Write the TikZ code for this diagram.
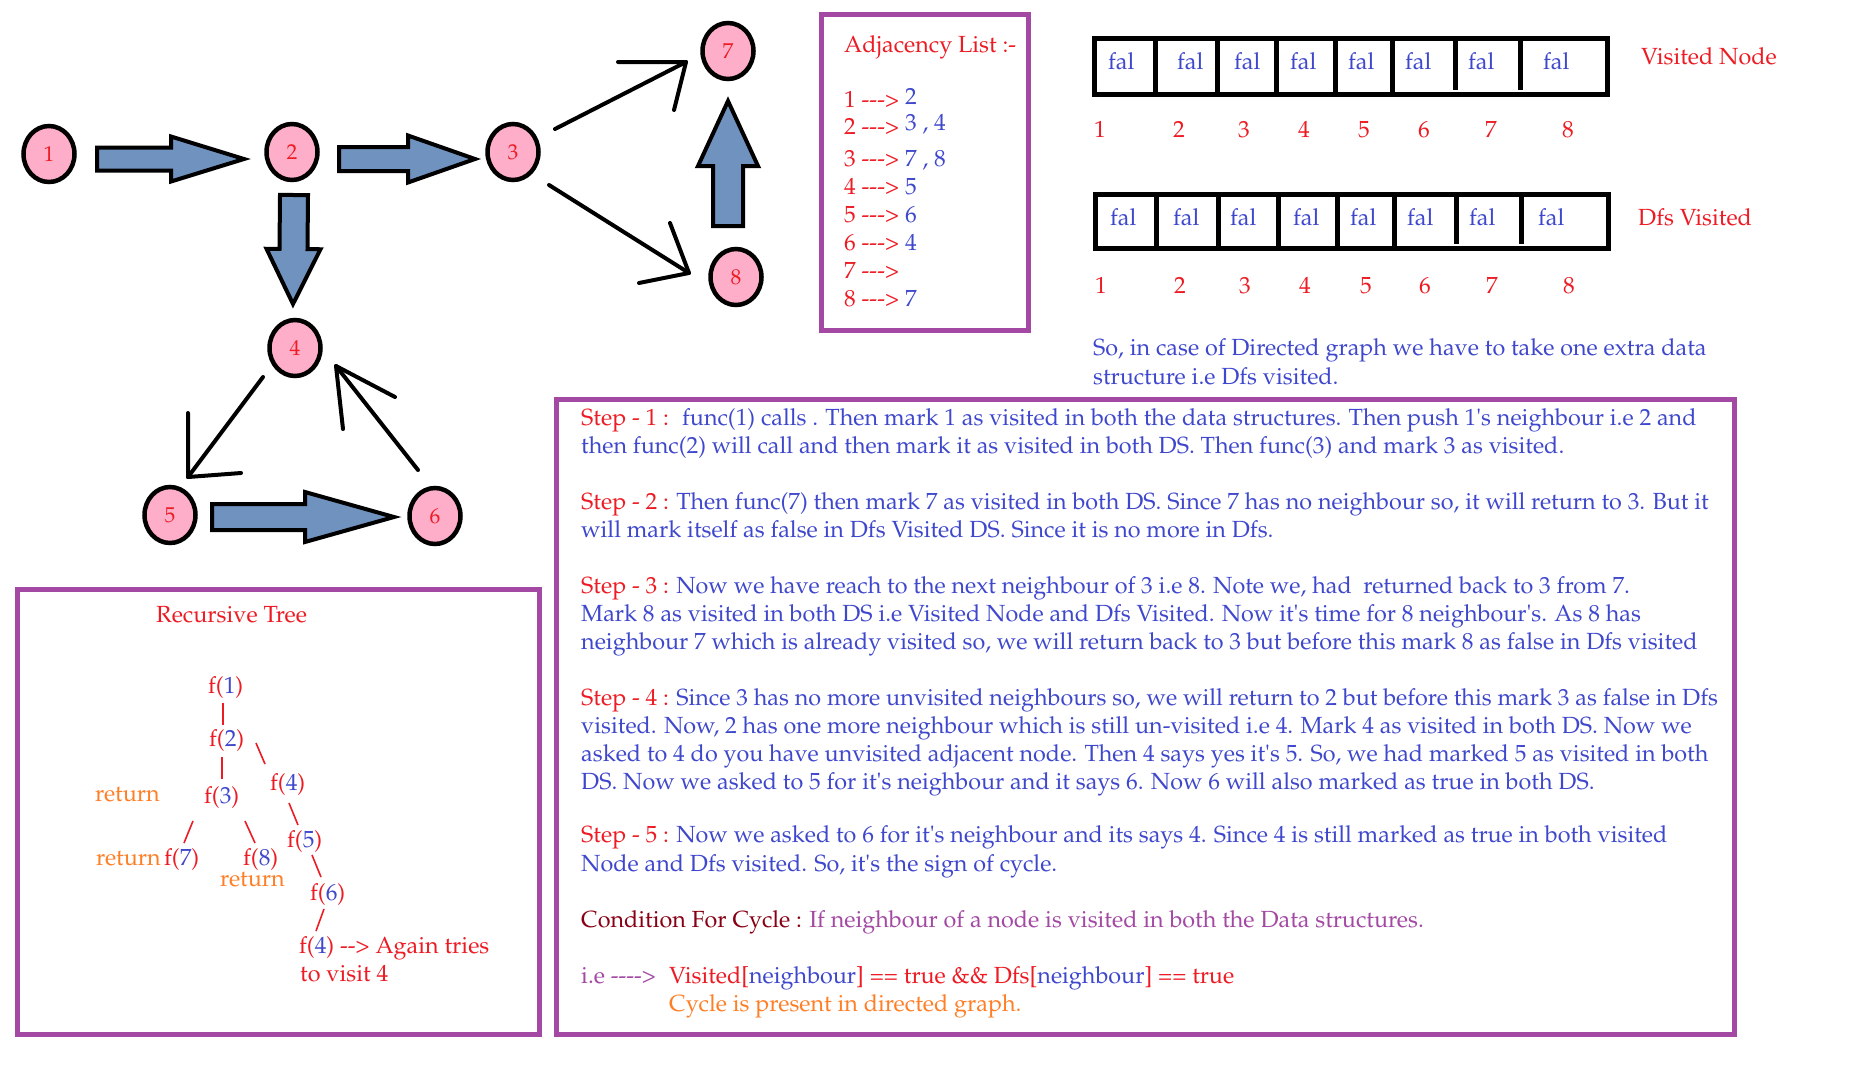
\documentclass[tikz,border=0pt]{standalone}
\usepackage[T1]{fontenc}
\usepackage{mathpazo}
\usetikzlibrary{calc,shapes.geometric}
\definecolor{cred}{RGB}{237,28,36}
\definecolor{cblue}{RGB}{63,72,204}
\definecolor{corange}{RGB}{255,127,39}
\definecolor{cpurple}{RGB}{163,73,164}
\definecolor{cdark}{RGB}{136,0,21}
\definecolor{carrow}{RGB}{112,146,190}
\definecolor{cpink}{RGB}{255,174,201}
\newcommand{\R}[1]{\textcolor{cred}{#1}}
\newcommand{\B}[1]{\textcolor{cblue}{#1}}
\newcommand{\fn}[1]{\R{f(}\B{#1}\R{)}}
\newcommand{\q}{\textquotesingle}
\newcommand{\blockarr}[5]{%
  \coordinate (ba) at ($(#2)!#5!(#1)$);
  \draw[blk] ($(#1)!#3!90:(#2)$) -- ($(ba)!#3!90:(#2)$) -- ($(ba)!#4!90:(#2)$) -- (#2)
     -- ($(ba)!#4!-90:(#2)$) -- ($(ba)!#3!-90:(#2)$) -- ($(#1)!#3!-90:(#2)$) -- cycle;}
\begin{document}
\begin{tikzpicture}[x=1pt,y=-1pt,
  gnode/.style={ellipse,draw=black,line width=4.5pt,fill=cpink,minimum width=51pt,minimum height=56pt,inner sep=0pt,text=cred,font=\fontsize{21.5}{24}\selectfont},
  blk/.style={draw=black,line width=4pt,fill=carrow,line join=miter},
  larrow/.style={draw=black,line width=4pt,line cap=round,line join=round},
  txt/.style={anchor=mid west,inner sep=0pt,yshift=-5.5pt,font=\fontsize{23.35}{28}\selectfont},
  frame/.style={draw=cpurple,line width=5pt},
  arr/.style={draw=black,line width=5pt},
  tline/.style={draw=cred,line width=1.6pt},
]
\useasboundingbox[fill=white] (0,0) rectangle (1870,1069);

% ---------- graph ----------
\node[gnode] (n1) at (49,154) {1};
\node[gnode] (n2) at (292,152) {2};
\node[gnode] (n3) at (513,152) {3};
\node[gnode] (n7) at (728,51) {7};
\node[gnode] (n8) at (736,277) {8};
\node[gnode] (n4) at (295,348) {4};
\node[gnode] (n5) at (170,515) {5};
\node[gnode] (n6) at (435,516) {6};

\coordinate (s12) at ([shift={(48,5)}]n1.center);
\coordinate (e12) at ([shift={(-48,7)}]n2.center);
\blockarr{s12}{e12}{11.5pt}{22.5pt}{73pt}
\coordinate (s23) at ([shift={(47,7)}]n2.center);
\coordinate (e23) at ([shift={(-38,7)}]n3.center);
\blockarr{s23}{e23}{12pt}{23.5pt}{67pt}
\coordinate (s24) at ([shift={(2,43)}]n2.center);
\coordinate (e24) at ([shift={(-2,-44)}]n4.center);
\blockarr{s24}{e24}{14pt}{27pt}{55pt}
\coordinate (s87) at ([shift={(-8,-51)}]n8.center);
\coordinate (e87) at ([shift={(0,50)}]n7.center);
\blockarr{s87}{e87}{15pt}{30pt}{65pt}
\coordinate (s56) at ([shift={(42,2)}]n5.center);
\coordinate (e56) at ([shift={(-41,1)}]n6.center);
\blockarr{s56}{e56}{13pt}{25pt}{89pt}

\draw[larrow] ([shift={(42,-23)}]n3.center) -- ([shift={(-42,11)}]n7.center) coordinate (t37);
\draw[larrow] ([shift={(-68,0)}]t37) -- (t37) -- ([shift={(-12,48)}]t37);
\draw[larrow] ([shift={(36,33)}]n3.center) -- ([shift={(-47,-4)}]n8.center) coordinate (t38);
\draw[larrow] ([shift={(-50,10)}]t38) -- (t38) -- ([shift={(-19,-50)}]t38);
\draw[larrow] ([shift={(-32,29)}]n4.center) -- ([shift={(18,-38)}]n5.center) coordinate (t45);
\draw[larrow] ([shift={(0,-64)}]t45) -- (t45) -- ([shift={(53,-4)}]t45);
\draw[larrow] ([shift={(-17,-46)}]n6.center) -- ([shift={(41,18)}]n4.center) coordinate (t64);
\draw[larrow] ([shift={(7,63)}]t64) -- (t64) -- ([shift={(59,31)}]t64);

% ---------- adjacency list ----------
\draw[frame] (821.5,14.5) rectangle (1028.5,330.5);
\node[txt,text=cred] (adjt) at (844,45) {Adjacency List :-};
\node[txt] (a1) at (844,100) {\R{1 -{}-{}->} \B{\raisebox{3pt}{2}}};
\node[txt] (a2) at (844,127) {\R{2 -{}-{}->} \B{\raisebox{4pt}{3 , 4}}};
\node[txt] (a3) at (844,159) {\R{3 -{}-{}->} \B{7 , 8}};
\node[txt] (a4) at (844,187) {\R{4 -{}-{}->} \B{5}};
\node[txt] (a5) at (844,215) {\R{5 -{}-{}->} \B{6}};
\node[txt] (a6) at (844,243) {\R{6 -{}-{}->} \B{4}};
\node[txt] (a7) at (844,271) {\R{7 -{}-{}->}};
\node[txt] (a8) at (844,299) {\R{8 -{}-{}->} \B{7}};

% ---------- arrays ----------
\draw[arr] (1094.5,38.5) rectangle (1607.5,94.5);
\foreach \x in {1155,1217,1276,1335,1392} \draw[arr] (\x,38.5) -- (\x,94.5);
\foreach \x in {1455,1520} \draw[arr] (\x,38.5) -- (\x,90);
\foreach \x [count=\i] in {1108,1177,1234,1290,1348,1405,1468,1543}
  \node[txt,text=cblue] (v\i) at (\x,62) {fal};
\foreach \x [count=\i] in {1100,1179,1244,1304,1364,1424,1491,1568}
  \node[txt,anchor=mid,text=cred] (vi\i) at (\x,130) {\i};
\node[txt,text=cred] (vlab) at (1641,57) {Visited Node};

\draw[arr] (1095.5,194.5) rectangle (1608.5,248.5);
\foreach \x in {1156,1218,1278,1337,1394} \draw[arr] (\x,194.5) -- (\x,248.5);
\foreach \x in {1456,1521} \draw[arr] (\x,194.5) -- (\x,244);
\foreach \x [count=\i] in {1110,1173,1230,1293,1350,1407,1469,1538}
  \node[txt,text=cblue] (d\i) at (\x,218) {fal};
\foreach \x [count=\i] in {1101,1180,1245,1305,1366,1425,1492,1569}
  \node[txt,anchor=mid,text=cred] (di\i) at (\x,286) {\i};
\node[txt,text=cred] (dlab) at (1638,218) {Dfs Visited};

\node[txt,text=cblue] (so1) at (1093,348) {So, in case of Directed graph we have to take one extra data};
\node[txt,text=cblue] (so2) at (1093,377) {structure i.e Dfs visited.};

% ---------- recursive tree ----------
\draw[frame] (17.5,589.5) rectangle (539.5,1034.5);
\node[txt,text=cred] (rt) at (156,615) {Recursive Tree};
\node[txt] (t1) at (208,686) {\fn{1}};
\node[txt] (t2) at (209,739) {\fn{2}};
\node[txt] (t3) at (204,796) {\fn{3}};
\node[txt] (t4) at (270,783) {\fn{4}};
\node[txt,text=corange] (r3) at (95,794) {return};
\node[txt,text=corange] (r7) at (96,858) {return};
\node[txt] (t7) at (164,858) {\fn{7}};
\node[txt] (t8) at (243,858) {\fn{8}};
\node[txt,text=corange] (r8) at (220,879) {return};
\node[txt] (t5) at (287,840) {\fn{5}};
\node[txt] (t6) at (310,893) {\fn{6}};
\node[txt] (t4b) at (299,946) {\fn{4} \R{-{}-> Again tries}};
\node[txt,text=cred] (tv) at (300,974) {to visit 4};

\draw[tline] ([shift={(15,11.5)}]t1.mid west) -- ([shift={(14,-19.5)}]t2.mid west);
\draw[tline] ([shift={(13,12.5)}]t2.mid west) -- ([shift={(18,-22.5)}]t3.mid west);
\draw[tline] ([shift={(47,-1.5)}]t2.mid west) -- ([shift={(-5,-24.5)}]t4.mid west);
\draw[tline] ([shift={(-11,19.5)}]t3.mid west) -- ([shift={(20,-20.5)}]t7.mid west);
\draw[tline] ([shift={(41,19.5)}]t3.mid west) -- ([shift={(12,-20.5)}]t8.mid west);
\draw[tline] ([shift={(19,14.5)}]t4.mid west) -- ([shift={(11,-20.5)}]t5.mid west);
\draw[tline] ([shift={(25,9.5)}]t5.mid west) -- ([shift={(11,-21.5)}]t6.mid west);
\draw[tline] ([shift={(14,10.5)}]t6.mid west) -- ([shift={(17,-20.5)}]t4b.mid west);

% ---------- steps ----------
\draw[frame] (556.5,399.5) rectangle (1734.5,1034.5);
\begin{scope}[every node/.append style={txt,text=cblue}]
\node (s1a) at (581,418) {\R{Step - 1 :}~ func(1) calls . Then mark 1 as visited in both the data structures. Then push 1\q s neighbour i.e 2 and};
\node (s1b) at (581,446) {then func(2) will call and then mark it as visited in both DS. Then func(3) and mark 3 as visited.};
\node (s2a) at (581,502) {\R{Step - 2 :} Then func(7) then mark 7 as visited in both DS. Since 7 has no neighbour so, it will return to 3. But it};
\node (s2b) at (581,530) {will mark itself as false in Dfs Visited DS. Since it is no more in Dfs.};
\node (s3a) at (581,586) {\R{Step - 3 :} Now we have reach to the next neighbour of 3 i.e 8. Note we, had~ returned back to 3 from 7.};
\node (s3b) at (581,614) {Mark 8 as visited in both DS i.e Visited Node and Dfs Visited. Now it\q s time for 8 neighbour\q s. As 8 has};
\node (s3c) at (581,642) {neighbour 7 which is already visited so, we will return back to 3 but before this mark 8 as false in Dfs visited};
\node (s4a) at (581,698) {\R{Step - 4 :} Since 3 has no more unvisited neighbours so, we will return to 2 but before this mark 3 as false in Dfs};
\node (s4b) at (581,726) {visited. Now, 2 has one more neighbour which is still un-visited i.e 4. Mark 4 as visited in both DS. Now we};
\node (s4c) at (581,754) {asked to 4 do you have unvisited adjacent node. Then 4 says yes it\q s 5. So, we had marked 5 as visited in both};
\node (s4d) at (581,782) {DS. Now we asked to 5 for it\q s neighbour and it says 6. Now 6 will also marked as true in both DS.};
\node (s5a) at (581,835) {\R{Step - 5 :} Now we asked to 6 for it\q s neighbour and its says 4. Since 4 is still marked as true in both visited};
\node (s5b) at (581,864) {Node and Dfs visited. So, it\q s the sign of cycle.};
\node (cond) at (581,920) {\textcolor{cdark}{Condition For Cycle :} \textcolor{cpurple}{If neighbour of a node is visited in both the Data structures.}};
\node[text=cpurple] (ie) at (581,976) {i.e -{}-{}-{}->};
\node (vis) at (669,976) {\R{Visited[}\B{neighbour}\R{] == true \&\& Dfs[}\B{neighbour}\R{] == true}};
\node[text=corange] (cyc) at (669,1004) {Cycle is present in directed graph.};
\end{scope}
\end{tikzpicture}
\end{document}
